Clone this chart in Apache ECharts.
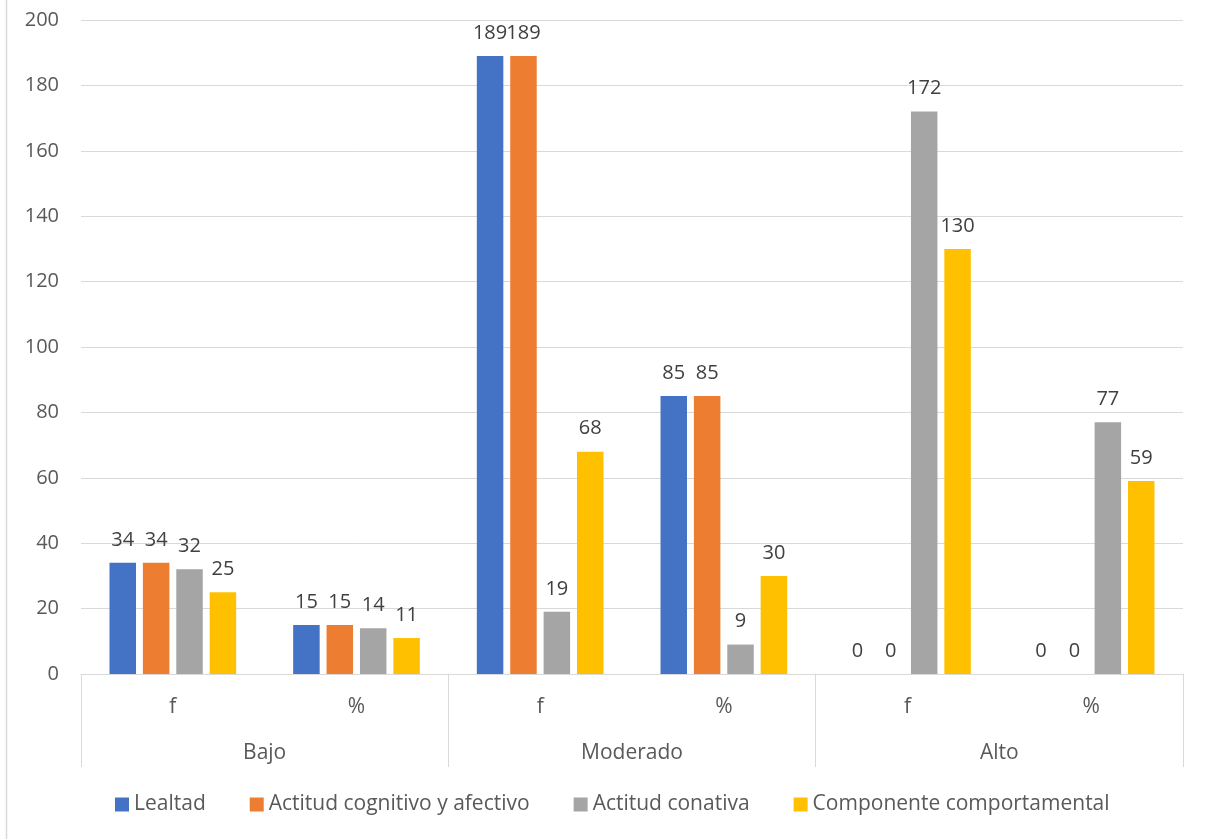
<!DOCTYPE html>
<html>
<head>
<meta charset="utf-8">
<script src="https://cdn.jsdelivr.net/npm/echarts@6/dist/echarts.min.js"></script>
<style>html,body{margin:0;padding:0;background:#fff;}#c{width:1208px;height:839px;}</style>
</head>
<body>
<div id="c"></div>
<script>
const subCategories = ['f', '%', 'f', '%', 'f', '%'];
const groupCategories = ['Bajo', 'Moderado', 'Alto'];
const seriesNames = ['Lealtad', 'Actitud cognitivo y afectivo', 'Actitud conativa', 'Componente comportamental'];
const lealtad = [34, 15, 189, 85, 0, 0];
const actitudCognitivo = [34, 15, 189, 85, 0, 0];
const actitudConativa = [32, 14, 19, 9, 172, 77];
const componente = [25, 11, 68, 30, 130, 59];
const yTicks = { min: 0, max: 200, interval: 20 };

const colors = ['#4472C4', '#ED7D31', '#A5A5A5', '#FFC000'];
const FONT = 'Open Sans';
const values = [lealtad, actitudCognitivo, actitudConativa, componente];

const chart = echarts.init(document.getElementById('c'));
chart.setOption({
  animation: false,
  color: colors,
  textStyle: { fontFamily: FONT },
  grid: { left: 81, right: 25, top: 20, bottom: 165, containLabel: false },
  legend: {
    data: seriesNames,
    left: 110, top: 789,
    itemWidth: 14, itemHeight: 14, itemGap: 44,
    icon: 'rect',
    textStyle: { fontFamily: FONT, fontSize: 21, color: '#595959' }
  },
  xAxis: [
    {
      type: 'category', data: subCategories, position: 'bottom',
      axisLine: { show: true, lineStyle: { color: '#d9d9d9', width: 1 } },
      axisTick: { show: false },
      axisLabel: { margin: 23, fontSize: 21, color: '#595959', fontFamily: FONT }
    },
    {
      type: 'category', data: groupCategories, position: 'bottom',
      axisLine: { show: false },
      axisTick: { show: true, length: 93, interval: 0, lineStyle: { color: '#d9d9d9', width: 1 } },
      axisLabel: { margin: 69, fontSize: 21, color: '#595959', fontFamily: FONT }
    }
  ],
  yAxis: {
    type: 'value', min: yTicks.min, max: yTicks.max, interval: yTicks.interval,
    axisLine: { show: false }, axisTick: { show: false },
    axisLabel: { margin: 22, fontSize: 20, color: '#595959', fontFamily: FONT },
    splitLine: { lineStyle: { color: '#d9d9d9', width: 1 } }
  },
  series: seriesNames.map((n, i) => ({
    name: n, type: 'bar', xAxisIndex: 0, data: values[i],
    barWidth: 26.5, barGap: '26%',
    label: { show: true, position: 'top', distance: 13, fontSize: 20, color: '#404040', fontFamily: FONT }
  })),
  graphic: [
    { type: 'line', shape: { x1: 6.5, y1: 0, x2: 6.5, y2: 839 }, style: { stroke: '#d9d9d9', lineWidth: 1.5 }, silent: true }
  ]
});
</script>
</body>
</html>
